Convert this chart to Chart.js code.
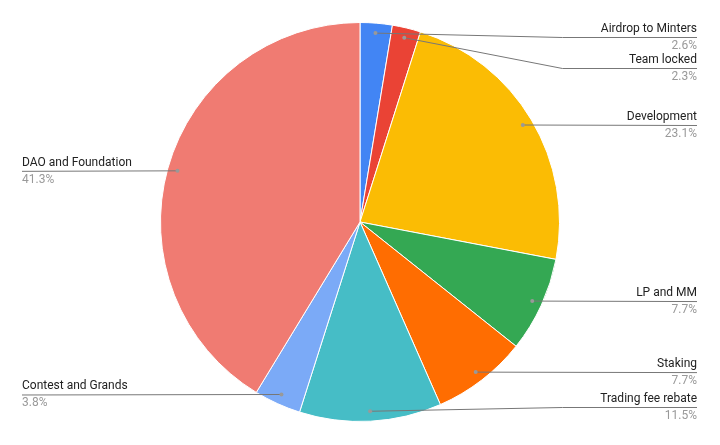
<!DOCTYPE html>
<html>
<head>
<meta charset="utf-8">
<script src="https://cdn.jsdelivr.net/npm/chart.js@4/dist/chart.umd.min.js"></script>
<style>
  html, body { margin: 0; padding: 0; background: #fff; }
  #wrap { width: 720px; height: 445px; position: relative; }
</style>
</head>
<body>
<div id="wrap"><canvas id="pieChart" width="720" height="445"></canvas></div>
<script>
const categories = ['Airdrop to Minters', 'Team locked', 'Development', 'LP and MM', 'Staking', 'Trading fee rebate', 'Contest and Grands', 'DAO and Foundation'];
const shares = [2.6, 2.3, 23.1, 7.7, 7.7, 11.5, 3.8, 41.3];
const sliceColors = ['#4285F4', '#EA4335', '#FBBC04', '#34A853', '#FF6D01', '#46BDC6', '#7BAAF7', '#F07B72'];

// leader-line labels, google-sheets style
const sideLabels = {
  id: 'sideLabels',
  afterDraw(chart) {
    const { ctx, width } = chart;
    const arcs = chart.getDatasetMeta(0).data;
    const minY = 37, maxY = 407, gap = 31;
    const left = [], right = [];

    arcs.forEach((arc, i) => {
      const a = (arc.startAngle + arc.endAngle) / 2;
      const r = arc.outerRadius * 0.95;
      const item = {
        i, cx: arc.x, R: arc.outerRadius,
        dx: arc.x + Math.cos(a) * r,
        dy: arc.y + Math.sin(a) * r
      };
      (Math.cos(a) >= 0 ? right : left).push(item);
    });

    [left, right].forEach(list => {
      list.sort((p, q) => p.dy - q.dy);
      let prev = -Infinity;
      list.forEach(p => {
        p.ly = Math.max(Math.min(Math.max(p.dy, minY), maxY), prev + gap);
        prev = p.ly;
      });
      for (let k = list.length - 1; k >= 0; k--) {
        const lim = k === list.length - 1 ? maxY : list[k + 1].ly - gap;
        if (list[k].ly > lim) list[k].ly = lim;
      }
    });

    ctx.save();
    ctx.font = '12px Roboto, Arial, sans-serif';
    ctx.textBaseline = 'middle';

    const drawOne = (p, isRight) => {
      const edge = isRight ? width - 23 : 22;
      const elbow = isRight ? p.cx + p.R + 3 : p.cx - p.R - 3;
      ctx.strokeStyle = '#777';
      ctx.lineWidth = 1;
      ctx.beginPath();
      ctx.moveTo(p.dx, p.dy);
      if (Math.abs(p.ly - p.dy) > 0.5) ctx.lineTo(elbow, p.ly + 0.5);
      ctx.lineTo(edge, p.ly + 0.5);
      ctx.stroke();

      ctx.fillStyle = '#999';
      ctx.beginPath();
      ctx.arc(p.dx, p.dy, 2, 0, Math.PI * 2);
      ctx.fill();

      ctx.textAlign = isRight ? 'right' : 'left';
      ctx.fillStyle = '#222';
      ctx.fillText(categories[p.i], edge, p.ly - 8);
      ctx.fillStyle = '#999';
      ctx.fillText(shares[p.i].toFixed(1) + '%', edge, p.ly + 9);
    };

    right.forEach(p => drawOne(p, true));
    left.forEach(p => drawOne(p, false));
    ctx.restore();
  }
};

new Chart(document.getElementById('pieChart'), {
  type: 'pie',
  data: {
    labels: categories,
    datasets: [{
      data: shares,
      backgroundColor: sliceColors,
      borderColor: '#fff',
      borderWidth: 1
    }]
  },
  options: {
    responsive: false,
    animation: false,
    layout: { padding: { top: 22, bottom: 23, left: 0, right: 0 } },
    plugins: {
      legend: { display: false },
      tooltip: { enabled: false }
    }
  },
  plugins: [sideLabels]
});
</script>
</body>
</html>
